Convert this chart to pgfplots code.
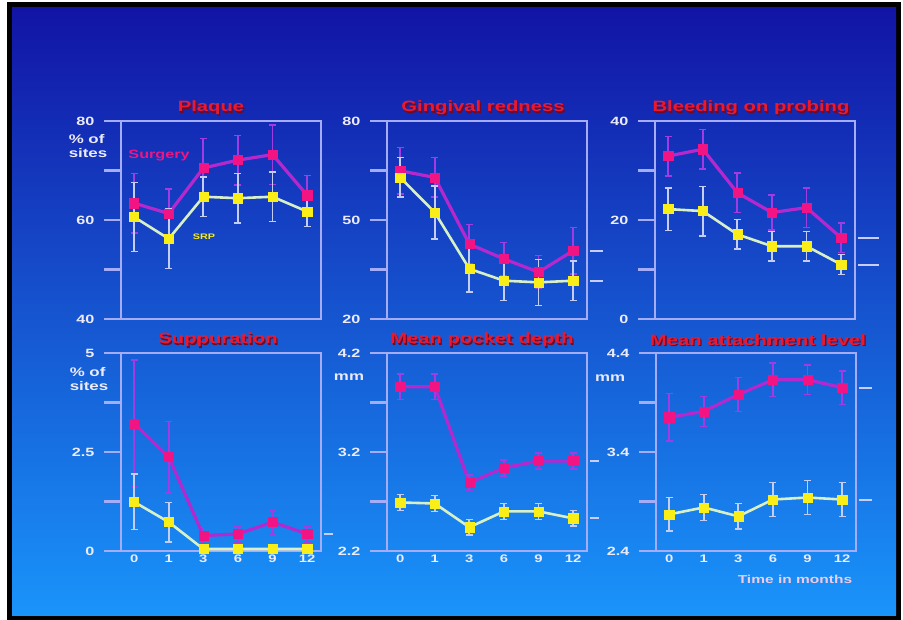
\documentclass[border=0pt]{standalone}
\usepackage{pgfplots}
\pgfplotsset{compat=1.18}
\usepackage{fontspec}
\setmainfont{Liberation Sans}[FakeStretch=1.35]

\definecolor{bgtop}{RGB}{18,20,165}
\definecolor{bgmid}{RGB}{22,72,218}
\definecolor{bgbot}{RGB}{25,148,250}
\definecolor{framec}{RGB}{165,172,250}
\definecolor{magmark}{RGB}{242,20,130}
\definecolor{magline}{RGB}{180,40,205}
\definecolor{magerr}{RGB}{160,60,225}
\definecolor{yelmark}{RGB}{250,238,25}
\definecolor{yelline}{RGB}{215,240,200}
\definecolor{yelerr}{RGB}{195,205,245}
\definecolor{titlered}{RGB}{235,25,45}
\definecolor{titleshadow}{RGB}{110,10,40}
\definecolor{ticktext}{RGB}{235,235,250}

\pgfplotsset{
  panel/.style={
    scale only axis, width=200pt, height=198pt,
    xmin=-0.38, xmax=5.4, clip=false,
    axis line style={framec, line width=2.5pt},
    ytick align=outside, xtick align=inside, major tick length=17pt,
    ytick pos=left,
    ytick style={framec, line width=2.5pt},
    xtick style={draw=none},
    /pgf/number format/assume math mode=true,
    yticklabel style={font=\fontsize{12}{12}\selectfont\bfseries, text=ticktext, xshift=-6pt},
    xticklabel style={font=\fontsize{11}{11}\selectfont\bfseries, text=ticktext},
  },
  toprow/.style={panel, xtick=\empty},
  botrow/.style={panel, xtick={0,...,5}, xticklabels={0,1,3,6,9,12}},
  magser/.style={
    color=magline, line width=3.2pt, mark=square*, mark size=4.6pt,
    mark options={draw=magmark, fill=magmark, line width=0.5pt},
    error bars/y dir=both, error bars/y explicit,
    error bars/error mark=-,
    error bars/error bar style={color=magerr, line width=1.8pt},
    error bars/error mark options={rotate=90, color=magerr, line width=1.5pt, mark size=3.5pt},
  },
  yelser/.style={
    color=yelline, line width=2.6pt, mark=square*, mark size=4.6pt,
    mark options={draw=yelmark, fill=yelmark, line width=0.5pt},
    error bars/y dir=both, error bars/y explicit,
    error bars/error mark=-,
    error bars/error bar style={color=yelerr, line width=1.8pt},
    error bars/error mark options={rotate=90, color=yelerr, line width=1.5pt, mark size=3.5pt},
  },
  endmark/.style={color=framec!60!white, line width=2pt, forget plot, mark=none},
}

\tikzset{
  ttl/.style={font=\fontsize{15}{15}\selectfont\bfseries, text=titlered, inner sep=0pt},
  ttlsh/.style={font=\fontsize{15}{15}\selectfont\bfseries, text=titleshadow, inner sep=0pt},
  ylab/.style={font=\fontsize{12.5}{14.5}\selectfont\bfseries, text=ticktext, align=left, inner sep=0pt},
}

% panel title with a dark offset shadow
\newcommand\paneltitle[2]{%
  \node[ttlsh, xshift=#1pt+1.3pt, yshift=11.7pt] at (rel axis cs:0.5,1) {#2};
  \node[ttl, xshift=#1pt, yshift=13pt] at (rel axis cs:0.5,1) {#2};
}

\begin{document}
\begin{tikzpicture}[x=1pt,y=1pt]
% slide frame and background
\fill[white] (0pt,0pt) rectangle (903pt,620pt);
\fill[black] (7pt,0pt) rectangle (901pt,618pt);
\shade[top color=bgtop, middle color=bgmid, bottom color=bgbot] (12pt,4pt) rectangle (896pt,612pt);

% ---------- Plaque ----------
\begin{axis}[toprow, at={(121pt,301pt)}, anchor=south west,
  ymin=40, ymax=80, ytick={40,50,...,80}, yticklabels={40,,60,,80}]
\addplot[magser] coordinates {(0,63.4) +- (0,6) (1,61.3) +- (0,5) (2,70.5) +- (0,6)
  (3,72.1) +- (0,5) (4,73.2) +- (0,6) (5,65.0) +- (0,4)};
\addplot[yelser] coordinates {(0,60.6) +- (0,7) (1,56.2) +- (0,6) (2,64.7) +- (0,4)
  (3,64.4) +- (0,5) (4,64.7) +- (0,5) (5,61.7) +- (0,3)};
\paneltitle{-10}{Plaque}
\node[ylab, anchor=center, xshift=-33pt, yshift=-25pt] at (rel axis cs:0,1) {\% of\\sites};
\node[font=\fontsize{12}{12}\selectfont\bfseries, text=magmark] at (axis cs:0.72,73.1) {Surgery};
\node[font=\fontsize{8}{8}\selectfont\bfseries, text=yelmark] at (axis cs:2.02,56.6) {SRP};
\end{axis}

% ---------- Gingival redness ----------
\begin{axis}[toprow, at={(387pt,301pt)}, anchor=south west,
  ymin=20, ymax=80, ytick={20,35,...,80}, yticklabels={20,,50,,80}]
\addplot[magser] coordinates {(0,64.9) +- (0,7) (1,62.9) +- (0,6) (2,42.7) +- (0,6)
  (3,38.2) +- (0,5) (4,34.2) +- (0,5) (5,40.7) +- (0,7)};
\addplot[yelser] coordinates {(0,62.9) +- (0,6) (1,52.3) +- (0,8) (2,35.2) +- (0,7)
  (3,31.6) +- (0,6) (4,31.1) +- (0,7) (5,31.6) +- (0,6)};
\addplot[endmark] coordinates {(5.48,40.7) (5.85,40.7)};
\addplot[endmark] coordinates {(5.48,31.6) (5.85,31.6)};
\paneltitle{-4}{Gingival redness}
\end{axis}

% ---------- Bleeding on probing ----------
\begin{axis}[toprow, at={(655pt,301pt)}, anchor=south west,
  ymin=0, ymax=40, ytick={0,10,...,40}, yticklabels={0,,20,,40}]
\addplot[magser] coordinates {(0,32.9) +- (0,4) (1,34.3) +- (0,4) (2,25.5) +- (0,4)
  (3,21.5) +- (0,3.5) (4,22.5) +- (0,4) (5,16.4) +- (0,3)};
\addplot[yelser] coordinates {(0,22.2) +- (0,4.3) (1,21.8) +- (0,5) (2,17.1) +- (0,3)
  (3,14.7) +- (0,3) (4,14.7) +- (0,3) (5,11.0) +- (0,2)};
\addplot[endmark] coordinates {(5.48,16.4) (6.1,16.4)};
\addplot[endmark] coordinates {(5.48,11.0) (6.1,11.0)};
\paneltitle{-4}{Bleeding on probing}
\end{axis}

% ---------- Suppuration ----------
\begin{axis}[botrow, at={(121pt,69pt)}, anchor=south west,
  ymin=0, ymax=5, ytick={0,1.25,...,5}, yticklabels={0,,2.5,,5}]
\addplot[magser] coordinates {(0,3.22) +- (0,1.6) (1,2.37) +- (0,0.9) (2,0.39) +- (0,0.2)
  (3,0.43) +- (0,0.2) (4,0.73) +- (0,0.3) (5,0.43) +- (0,0.2)};
\addplot[yelser] coordinates {(0,1.24) +- (0,0.7) (1,0.73) +- (0,0.5) (2,0.05) +- (0,0.1)
  (3,0.05) +- (0,0.1) (4,0.05) +- (0,0.1) (5,0.05) +- (0,0.1)};
\addplot[endmark] coordinates {(5.48,0.43) (5.75,0.43)};
\paneltitle{-3}{Suppuration}
\node[ylab, anchor=center, xshift=-32pt, yshift=-26pt] at (rel axis cs:0,1) {\% of\\sites};
\end{axis}

% ---------- Mean pocket depth ----------
\begin{axis}[botrow, at={(387pt,69pt)}, anchor=south west,
  ymin=2.2, ymax=4.2, ytick={2.2,2.7,...,4.2}, yticklabels={2.2,,3.2,,4.2}]
\addplot[magser] coordinates {(0,3.86) +- (0,0.13) (1,3.86) +- (0,0.13) (2,2.89) +- (0,0.08)
  (3,3.04) +- (0,0.08) (4,3.11) +- (0,0.08) (5,3.11) +- (0,0.08)};
\addplot[yelser] coordinates {(0,2.69) +- (0,0.08) (1,2.68) +- (0,0.08) (2,2.44) +- (0,0.08)
  (3,2.60) +- (0,0.08) (4,2.60) +- (0,0.08) (5,2.53) +- (0,0.08)};
\addplot[endmark] coordinates {(5.48,3.11) (5.75,3.11)};
\addplot[endmark] coordinates {(5.48,2.53) (5.75,2.53)};
\paneltitle{-5}{Mean pocket depth}
\node[ylab, anchor=center, xshift=-38pt, yshift=-24pt] at (rel axis cs:0,1) {mm};
\end{axis}

% ---------- Mean attachment level ----------
\begin{axis}[botrow, at={(656pt,69pt)}, anchor=south west,
  ymin=2.4, ymax=4.4, ytick={2.4,2.9,...,4.4}, yticklabels={2.4,,3.4,,4.4}]
\addplot[magser] coordinates {(0,3.75) +- (0,0.24) (1,3.81) +- (0,0.15) (2,3.98) +- (0,0.17)
  (3,4.13) +- (0,0.17) (4,4.13) +- (0,0.15) (5,4.05) +- (0,0.17)};
\addplot[yelser] coordinates {(0,2.77) +- (0,0.17) (1,2.84) +- (0,0.13) (2,2.75) +- (0,0.13)
  (3,2.92) +- (0,0.17) (4,2.94) +- (0,0.17) (5,2.92) +- (0,0.17)};
\addplot[endmark] coordinates {(5.48,4.05) (5.85,4.05)};
\addplot[endmark] coordinates {(5.48,2.92) (5.85,2.92)};
\paneltitle{2}{Mean attachment level}
\node[ylab, anchor=center, xshift=-46pt, yshift=-25pt] at (rel axis cs:0,1) {mm};
\end{axis}

\node[font=\fontsize{11.5}{11.5}\selectfont\bfseries, text=ticktext!85!magmark] at (795pt,41pt) {Time in months};
\end{tikzpicture}
\end{document}
